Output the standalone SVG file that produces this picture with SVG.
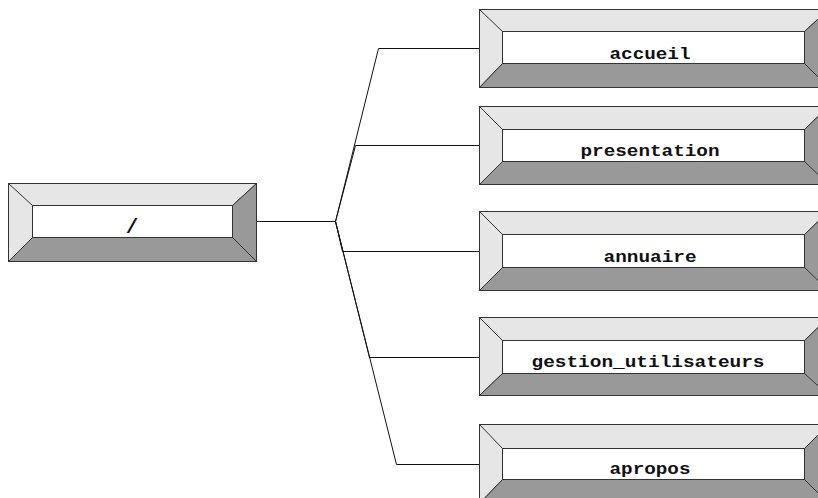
<svg xmlns="http://www.w3.org/2000/svg" width="818" height="498" viewBox="0 0 818 498">
  <style>
    .light { fill: #e6e6e6; stroke: #333; stroke-width: 1; }
    .dark { fill: #999999; stroke: #333; stroke-width: 1; }
    .face { fill: #ffffff; stroke: #333; stroke-width: 1; }
    .edge { fill: none; stroke: #333; stroke-width: 1; }
    .label { font-family: "Liberation Mono", "Courier New", monospace; font-weight: bold; font-size: 16px; fill: #111; text-anchor: middle; }
    .root-label { font-size: 21px; }
    .wire { fill: none; stroke: #111; stroke-width: 1; }
  </style>

  <!-- connectors: root to each child page -->
  <g id="connectors">
    <path class="wire" d="M256.5,221.5 H335.5"/>
    <path class="wire" d="M335.5,221.5 L378.5,48.5 H480"/>
    <path class="wire" d="M335.5,221.5 L355.5,145.5 H480"/>
    <path class="wire" d="M335.5,221.5 L342.5,251.5 H480"/>
    <path class="wire" d="M335.5,221.5 L369.5,357.5 H480"/>
    <path class="wire" d="M335.5,221.5 L396.5,464.5 H480"/>
  </g>

  <!-- root node -->
  <g id="node-root">
    <polygon class="light" points="8.5,183.5 256.5,183.5 232.5,205.5 32.5,205.5 32.5,237.5 8.5,261.5"/>
    <polygon class="dark" points="256.5,183.5 256.5,261.5 8.5,261.5 32.5,237.5 232.5,237.5 232.5,205.5"/>
    <rect class="face" x="32.5" y="205.5" width="200" height="32"/>
    <path class="edge" d="M8.5,183.5 L32.5,205.5 M256.5,261.5 L232.5,237.5"/>
    <rect class="edge" x="8.5" y="183.5" width="248" height="78"/>
    <text class="label root-label" x="132" y="233">/</text>
  </g>

  <!-- child pages -->
  <g id="node-accueil">
    <polygon class="light" points="479.5,9.5 828.5,9.5 804.5,31.5 502.5,31.5 502.5,63.5 479.5,87.5"/>
    <polygon class="dark" points="828.5,9.5 828.5,87.5 479.5,87.5 502.5,63.5 804.5,63.5 804.5,31.5"/>
    <rect class="face" x="502.5" y="31.5" width="302" height="32"/>
    <path class="edge" d="M479.5,9.5 L502.5,31.5 M828.5,87.5 L804.5,63.5"/>
    <rect class="edge" x="479.5" y="9.5" width="349" height="78"/>
    <text class="label" x="650" y="59" textLength="81" lengthAdjust="spacingAndGlyphs">accueil</text>
  </g>

  <g id="node-presentation">
    <polygon class="light" points="479.5,106.5 828.5,106.5 804.5,129.5 502.5,129.5 502.5,161.5 479.5,184.5"/>
    <polygon class="dark" points="828.5,106.5 828.5,184.5 479.5,184.5 502.5,161.5 804.5,161.5 804.5,129.5"/>
    <rect class="face" x="502.5" y="129.5" width="302" height="32"/>
    <path class="edge" d="M479.5,106.5 L502.5,129.5 M828.5,184.5 L804.5,161.5"/>
    <rect class="edge" x="479.5" y="106.5" width="349" height="78"/>
    <text class="label" x="650" y="156" textLength="139" lengthAdjust="spacingAndGlyphs">presentation</text>
  </g>

  <g id="node-annuaire">
    <polygon class="light" points="479.5,211.5 828.5,211.5 804.5,234.5 502.5,234.5 502.5,267.5 479.5,290.5"/>
    <polygon class="dark" points="828.5,211.5 828.5,290.5 479.5,290.5 502.5,267.5 804.5,267.5 804.5,234.5"/>
    <rect class="face" x="502.5" y="234.5" width="302" height="33"/>
    <path class="edge" d="M479.5,211.5 L502.5,234.5 M828.5,290.5 L804.5,267.5"/>
    <rect class="edge" x="479.5" y="211.5" width="349" height="79"/>
    <text class="label" x="650" y="262" textLength="93" lengthAdjust="spacingAndGlyphs">annuaire</text>
  </g>

  <g id="node-gestion_utilisateurs">
    <polygon class="light" points="479.5,317.5 828.5,317.5 804.5,340.5 502.5,340.5 502.5,373.5 479.5,395.5"/>
    <polygon class="dark" points="828.5,317.5 828.5,395.5 479.5,395.5 502.5,373.5 804.5,373.5 804.5,340.5"/>
    <rect class="face" x="502.5" y="340.5" width="302" height="33"/>
    <path class="edge" d="M479.5,317.5 L502.5,340.5 M828.5,395.5 L804.5,373.5"/>
    <rect class="edge" x="479.5" y="317.5" width="349" height="78"/>
    <text class="label" x="648" y="367" textLength="233" lengthAdjust="spacingAndGlyphs">gestion_utilisateurs</text>
  </g>

  <g id="node-apropos">
    <polygon class="light" points="479.5,424.5 828.5,424.5 804.5,448.5 502.5,448.5 502.5,479.5 479.5,503.5"/>
    <polygon class="dark" points="828.5,424.5 828.5,503.5 479.5,503.5 502.5,479.5 804.5,479.5 804.5,448.5"/>
    <rect class="face" x="502.5" y="448.5" width="302" height="31"/>
    <path class="edge" d="M479.5,424.5 L502.5,448.5 M828.5,503.5 L804.5,479.5"/>
    <rect class="edge" x="479.5" y="424.5" width="349" height="79"/>
    <text class="label" x="650" y="474" textLength="81" lengthAdjust="spacingAndGlyphs">apropos</text>
  </g>
</svg>
